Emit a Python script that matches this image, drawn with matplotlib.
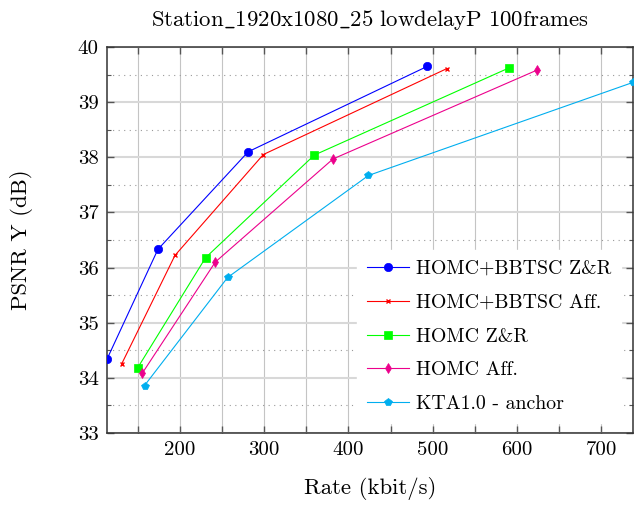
import matplotlib
matplotlib.use("Agg")
import matplotlib.pyplot as plt
from matplotlib.ticker import MultipleLocator, FuncFormatter

plt.rcParams['font.family'] = ['cmr10', 'DejaVu Serif']
plt.rcParams['mathtext.fontset'] = 'cm'
plt.rcParams['axes.unicode_minus'] = False

# rate (kbit/s) / PSNR Y (dB) per method
labels = ['HOMC+BBTSC Z&R', 'HOMC+BBTSC Aff.', 'HOMC Z&R', 'HOMC Aff.', 'KTA1.0 - anchor']
rate_bbtsc_zr = [113.5, 173.9, 281.0, 493.7]
psnr_bbtsc_zr = [34.34, 36.33, 38.10, 39.65]
rate_bbtsc_aff = [130.8, 194.1, 299.0, 517.0]
psnr_bbtsc_aff = [34.25, 36.22, 38.05, 39.61]
rate_homc_zr = [149.8, 230.5, 359.5, 590.4]
psnr_homc_zr = [34.18, 36.18, 38.04, 39.62]
rate_homc_aff = [155.6, 242.0, 381.7, 623.6]
psnr_homc_aff = [34.09, 36.10, 37.97, 39.58]
rate_kta = [158.0, 256.6, 423.7, 738.0]
psnr_kta = [33.86, 35.82, 37.67, 39.36]

colors = ['#0000ff', '#ff0000', '#00ff00', '#ec008c', '#00aeef']
markers = ['o', 'x', 's', 'd', 'p']
msizes = [6, 3.5, 6, 5, 6]

fig = plt.figure(figsize=(6.34, 5.05), dpi=100)
ax = fig.add_axes([0.1688, 0.1426, 0.8300, 0.7643])

series = [(rate_bbtsc_zr, psnr_bbtsc_zr), (rate_bbtsc_aff, psnr_bbtsc_aff),
          (rate_homc_zr, psnr_homc_zr), (rate_homc_aff, psnr_homc_aff),
          (rate_kta, psnr_kta)]
for (x, y), c, m, ms, lab in zip(series, colors, markers, msizes, labels):
    ax.plot(x, y, color=c, marker=m, markersize=ms, lw=0.8, label=lab,
            markeredgewidth=1.0 if m == 'x' else 0.5, zorder=3)

ax.set_xlim(113.5, 738.0)
ax.set_ylim(33, 40)
ax.xaxis.set_major_locator(MultipleLocator(50))
ax.xaxis.set_major_formatter(FuncFormatter(lambda v, p: '%d' % v if v % 100 == 0 else ''))
ax.yaxis.set_major_locator(MultipleLocator(1))
ax.yaxis.set_minor_locator(MultipleLocator(0.5))

ax.grid(axis='x', which='major', color='#c4c4c4', lw=0.8)
ax.grid(axis='y', which='major', color='#d8d8d8', lw=1.5)
ax.grid(axis='y', which='minor', color='#9a9a9a', lw=0.8, ls=(0, (1, 4)))
ax.set_axisbelow(True)

ax.tick_params(which='both', direction='in', top=True, right=True, color='#555555',
               labelsize=15, pad=6)
ax.tick_params(which='major', length=5, width=1.0)
ax.tick_params(which='minor', length=3, width=0.8)
for s in ax.spines.values():
    s.set_color('#333333')
    s.set_linewidth(1.1)

ax.set_xlabel('Rate (kbit/s)', fontsize=16.4, labelpad=13)
ax.set_ylabel('PSNR Y (dB)', fontsize=16.4, labelpad=32)
ax.set_title(r'$\mathrm{Station\_1920x1080\_25\ lowdelayP\ 100frames}$', fontsize=16.4,
             pad=15)

leg = ax.legend(loc='upper left', bbox_to_anchor=(0.476, 0.474), fontsize=14.3,
                frameon=True, fancybox=False, edgecolor='white', framealpha=1,
                borderaxespad=0, labelspacing=0.8, handlelength=2.1,
                handletextpad=0.35, borderpad=0.5)

fig.savefig('out.png', dpi=100)
